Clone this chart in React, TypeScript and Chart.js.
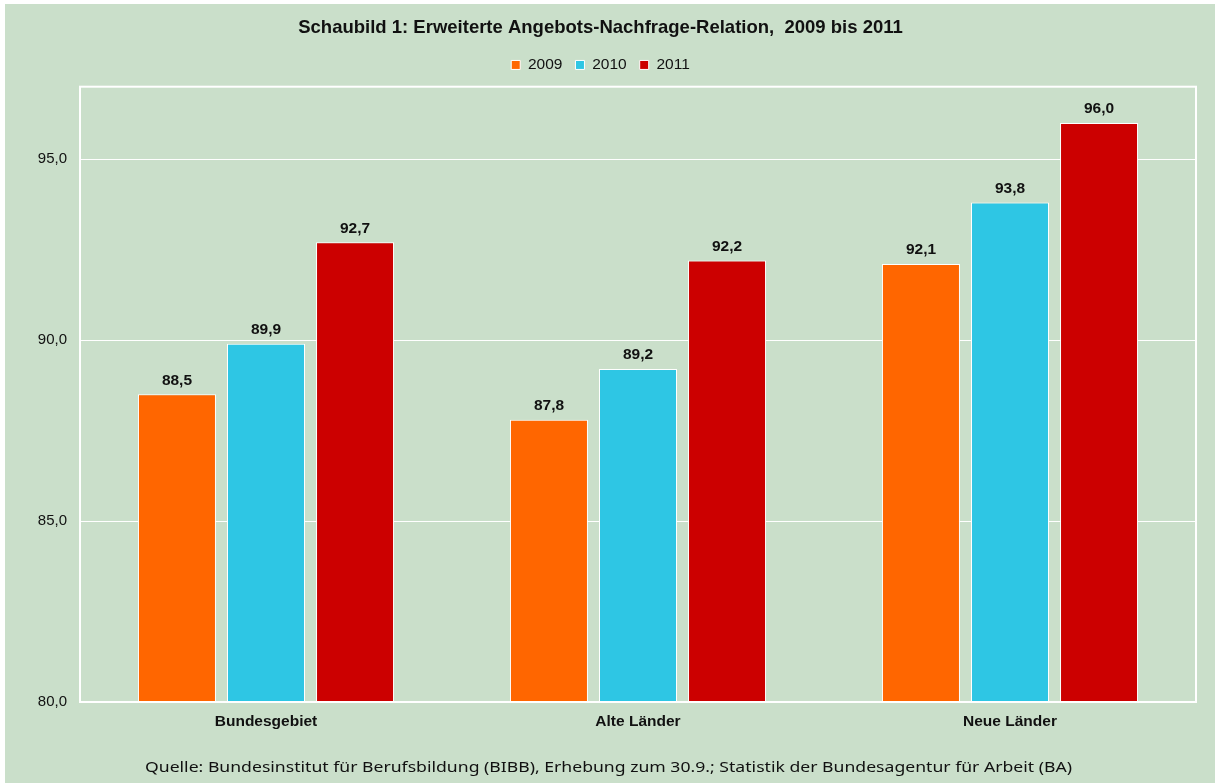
import React, { useEffect, useRef } from "react";
import { Chart, registerables } from "chart.js";

Chart.register(...registerables);

const TITLE = "Schaubild 1: Erweiterte Angebots-Nachfrage-Relation,  2009 bis 2011";
const SOURCE = "Quelle: Bundesinstitut für Berufsbildung (BIBB), Erhebung zum 30.9.; Statistik der Bundesagentur für Arbeit (BA)";
const categories = ["Bundesgebiet", "Alte Länder", "Neue Länder"];
const seriesNames = ["2009", "2010", "2011"];
const values2009 = [88.5, 87.8, 92.1];
const values2010 = [89.9, 89.2, 93.8];
const values2011 = [92.7, 92.2, 96.0];
const seriesColors = ["#ff6600", "#2ec6e4", "#cc0000"];
const BG = "#cadfca";
const FONT = "'Liberation Sans', Arial, sans-serif";

const fmt = (v: number) => v.toFixed(1).replace(".", ",");

export default function App() {
  const ref = useRef<HTMLCanvasElement | null>(null);
  useEffect(() => {
    if (!ref.current) return;
    const bgPlugin = {
      id: "bg",
      beforeDraw(chart: any) {
        const { ctx, width, height } = chart;
        ctx.save();
        ctx.fillStyle = "#ffffff";
        ctx.fillRect(0, 0, width, height);
        ctx.fillStyle = BG;
        ctx.fillRect(5, 4, width - 5, height - 4);
        ctx.restore();
      },
      afterDatasetsDraw(chart: any) {
        const { ctx, chartArea } = chart;
        ctx.save();
        ctx.strokeStyle = "#ffffff";
        ctx.lineWidth = 2;
        ctx.strokeRect(chartArea.left, chartArea.top, chartArea.right - chartArea.left, chartArea.bottom - chartArea.top);
        // value labels
        ctx.fillStyle = "#111111";
        ctx.font = `bold 15.5px ${FONT}`;
        ctx.textAlign = "center";
        ctx.textBaseline = "middle";
        chart.data.datasets.forEach((ds: any, i: number) => {
          const meta = chart.getDatasetMeta(i);
          meta.data.forEach((bar: any, j: number) => {
            ctx.fillText(fmt(ds.data[j]), bar.x, bar.y - 14);
          });
        });
        // source
        ctx.font = `15px 'Noto Sans', sans-serif`;
        ctx.textAlign = "left";
        ctx.textBaseline = "middle";
        ctx.fillStyle = "#111111";
        const w = ctx.measureText(SOURCE).width;
        const target = 927;
        ctx.translate(145, 768);
        ctx.scale(target / w, 1);
        ctx.fillText(SOURCE, 0, 0);
        ctx.restore();
      },
    };
    const chart = new Chart(ref.current, {
      type: "bar",
      data: {
        labels: categories,
        datasets: [values2009, values2010, values2011].map((d, i) => ({
          label: seriesNames[i],
          data: d,
          backgroundColor: seriesColors[i],
          borderColor: "#ffffff",
          borderWidth: 1,
          barPercentage: 0.876,
          categoryPercentage: 0.718,
        })),
      },
      options: {
        animation: false,
        responsive: false,
        layout: { padding: { left: 5, top: 6, right: 19, bottom: 0 } },
        plugins: {
          title: {
            display: true,
            text: TITLE,
            color: "#111111",
            font: { family: FONT, size: 18.5, weight: "bold" },
            padding: { top: 11, bottom: 5 },
          },
          subtitle: {
            display: true,
            text: "",
            weight: 500,
            font: { size: 2 },
            padding: { top: 0, bottom: 1.6 },
          },
          legend: {
            display: true,
            position: "top",
            labels: {
              color: "#111111",
              font: { family: FONT, size: 15.5 },
              boxWidth: 9,
              boxHeight: 9,
              padding: 13,
            },
          },
          tooltip: { enabled: false },
        },
        scales: {
          x: {
            grid: { display: false, drawTicks: false },
            border: { display: false },
            ticks: {
              color: "#111111",
              font: { family: FONT, size: 15.5, weight: "bold" },
              padding: 10,
            },
            afterFit(scale: any) {
              scale.height = 81;
            },
          },
          y: {
            min: 80,
            max: 97,
            grid: { color: "#ffffff", lineWidth: 1, drawTicks: false },
            border: { display: false },
            ticks: {
              stepSize: 5,
              includeBounds: false,
              color: "#111111",
              font: { family: FONT, size: 15 },
              padding: 13,
              callback: (v: any) => fmt(Number(v)),
            },
            afterFit(scale: any) {
              scale.width = 75;
            },
          },
        },
      },
      plugins: [bgPlugin],
    });
    return () => chart.destroy();
  }, []);
  return (
    <div style={{ position: "fixed", left: 0, top: 0, width: 1215, height: 783 }}>
      <canvas ref={ref} width={1215} height={783} style={{ display: "block" }} />
    </div>
  );
}
